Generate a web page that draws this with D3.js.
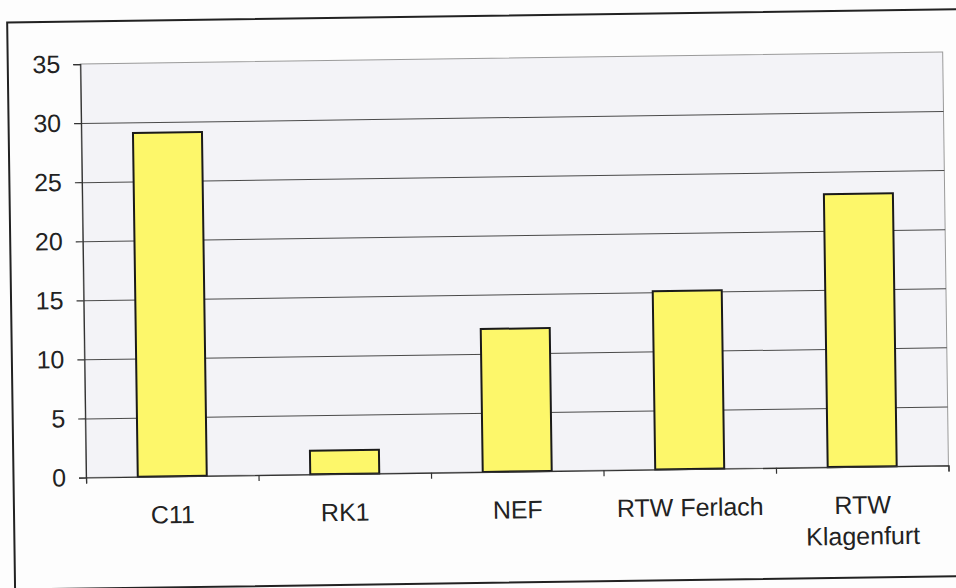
<!DOCTYPE html>
<html>
<head>
<meta charset="utf-8">
<script src="https://cdn.jsdelivr.net/npm/d3@7"></script>
<style>
  body { margin: 0; background: #fdfdfd; }
  text { font-family: "Liberation Sans", Arial, sans-serif; fill: #222; }
</style>
</head>
<body>
<div id="container"></div>
<script>
/* DATA */
const categories = ["C11", "RK1", "NEF", "RTW Ferlach", "RTW Klagenfurt"];
const values = [29.1, 2.0, 12.1, 15.1, 23.1];
const yTicks = [0, 5, 10, 15, 20, 25, 30, 35];

/* CONSTANTS AND GLOBALS */
const W = 956, H = 588;
const margin = {top: 58.5, right: 10, bottom: 116, left: 83.5},
      width = 946 - margin.left,
      height = 472 - margin.top;

const svg = d3.select("#container")
  .append("svg")
  .attr("width", W)
  .attr("height", H);

// the scan is a little tilted
const page = svg.append("g")
  .attr("transform", "rotate(-0.8," + W / 2 + "," + H / 2 + ")");

// outer frame
page.append("rect")
  .attr("x", 11).attr("y", 16)
  .attr("width", 970).attr("height", 567)
  .attr("fill", "none")
  .attr("stroke", "#222")
  .attr("stroke-width", 2);

const g = page.append("g")
  .attr("transform", "translate(" + margin.left + "," + margin.top + ")");

/* SCALES */
const xScale = d3.scaleBand()
  .domain(categories)
  .range([0, width])
  .paddingInner(0.6)
  .paddingOuter(0.3);

const xEdges = d3.scaleLinear()
  .domain([0, categories.length])
  .range([0, width]);

const yScale = d3.scaleLinear()
  .domain([0, 35])
  .range([height, 0]);

// plot area
g.append("rect")
  .attr("width", width)
  .attr("height", height)
  .attr("fill", "#f3f3f7")
  .attr("stroke", "#9a9a9a")
  .attr("stroke-width", 1);

// gridlines
g.append("g")
  .call(d3.axisLeft(yScale).tickValues(yTicks.filter(d => d > 0 && d < 35)).tickSize(-width).tickFormat(""))
  .call(s => s.select(".domain").remove())
  .selectAll("line")
  .attr("stroke", "#4a4a4a")
  .attr("stroke-width", 1);

// bars
g.selectAll("rect.bar")
  .data(values)
  .join("rect")
  .attr("class", "bar")
  .attr("x", (d, i) => xScale(categories[i]))
  .attr("y", d => yScale(d))
  .attr("width", xScale.bandwidth())
  .attr("height", d => yScale(0) - yScale(d))
  .attr("fill", "#fdf76a")
  .attr("stroke", "#1a1a1a")
  .attr("stroke-width", 2);

// y axis
const yAxisGroup = g.append("g")
  .call(d3.axisLeft(yScale).tickValues(yTicks).tickSize(7).tickPadding(13));
yAxisGroup.selectAll("text").attr("font-size", 25).style("font-family", "'Liberation Sans', Arial, sans-serif");
yAxisGroup.selectAll("line, path").attr("stroke", "#333").attr("stroke-width", 1.2);

// x axis (tick marks on category edges)
const xAxisGroup = g.append("g")
  .attr("transform", "translate(0," + height + ")")
  .call(d3.axisBottom(xEdges).tickValues(d3.range(categories.length + 1)).tickSize(6).tickFormat(""));
xAxisGroup.selectAll("line, path").attr("stroke", "#333").attr("stroke-width", 1.2);

// category labels, wrapped like the original
const labels = g.append("g").selectAll("text.cat")
  .data(categories)
  .join("text")
  .attr("class", "cat")
  .attr("text-anchor", "middle")
  .attr("font-size", 25)
  .attr("x", d => xScale(d) + xScale.bandwidth() / 2)
  .attr("y", height + 47)
  .text(d => d);

labels.each(function(d) {
  const t = d3.select(this);
  if (this.getComputedTextLength() > xScale.step()) {
    const words = d.split(" ");
    const x = t.attr("x");
    t.text(null);
    t.append("tspan").attr("x", x).attr("dy", 0).text(words.slice(0, -1).join(" "));
    t.append("tspan").attr("x", x).attr("dy", 31).text(words[words.length - 1]);
  }
});
</script>
</body>
</html>
